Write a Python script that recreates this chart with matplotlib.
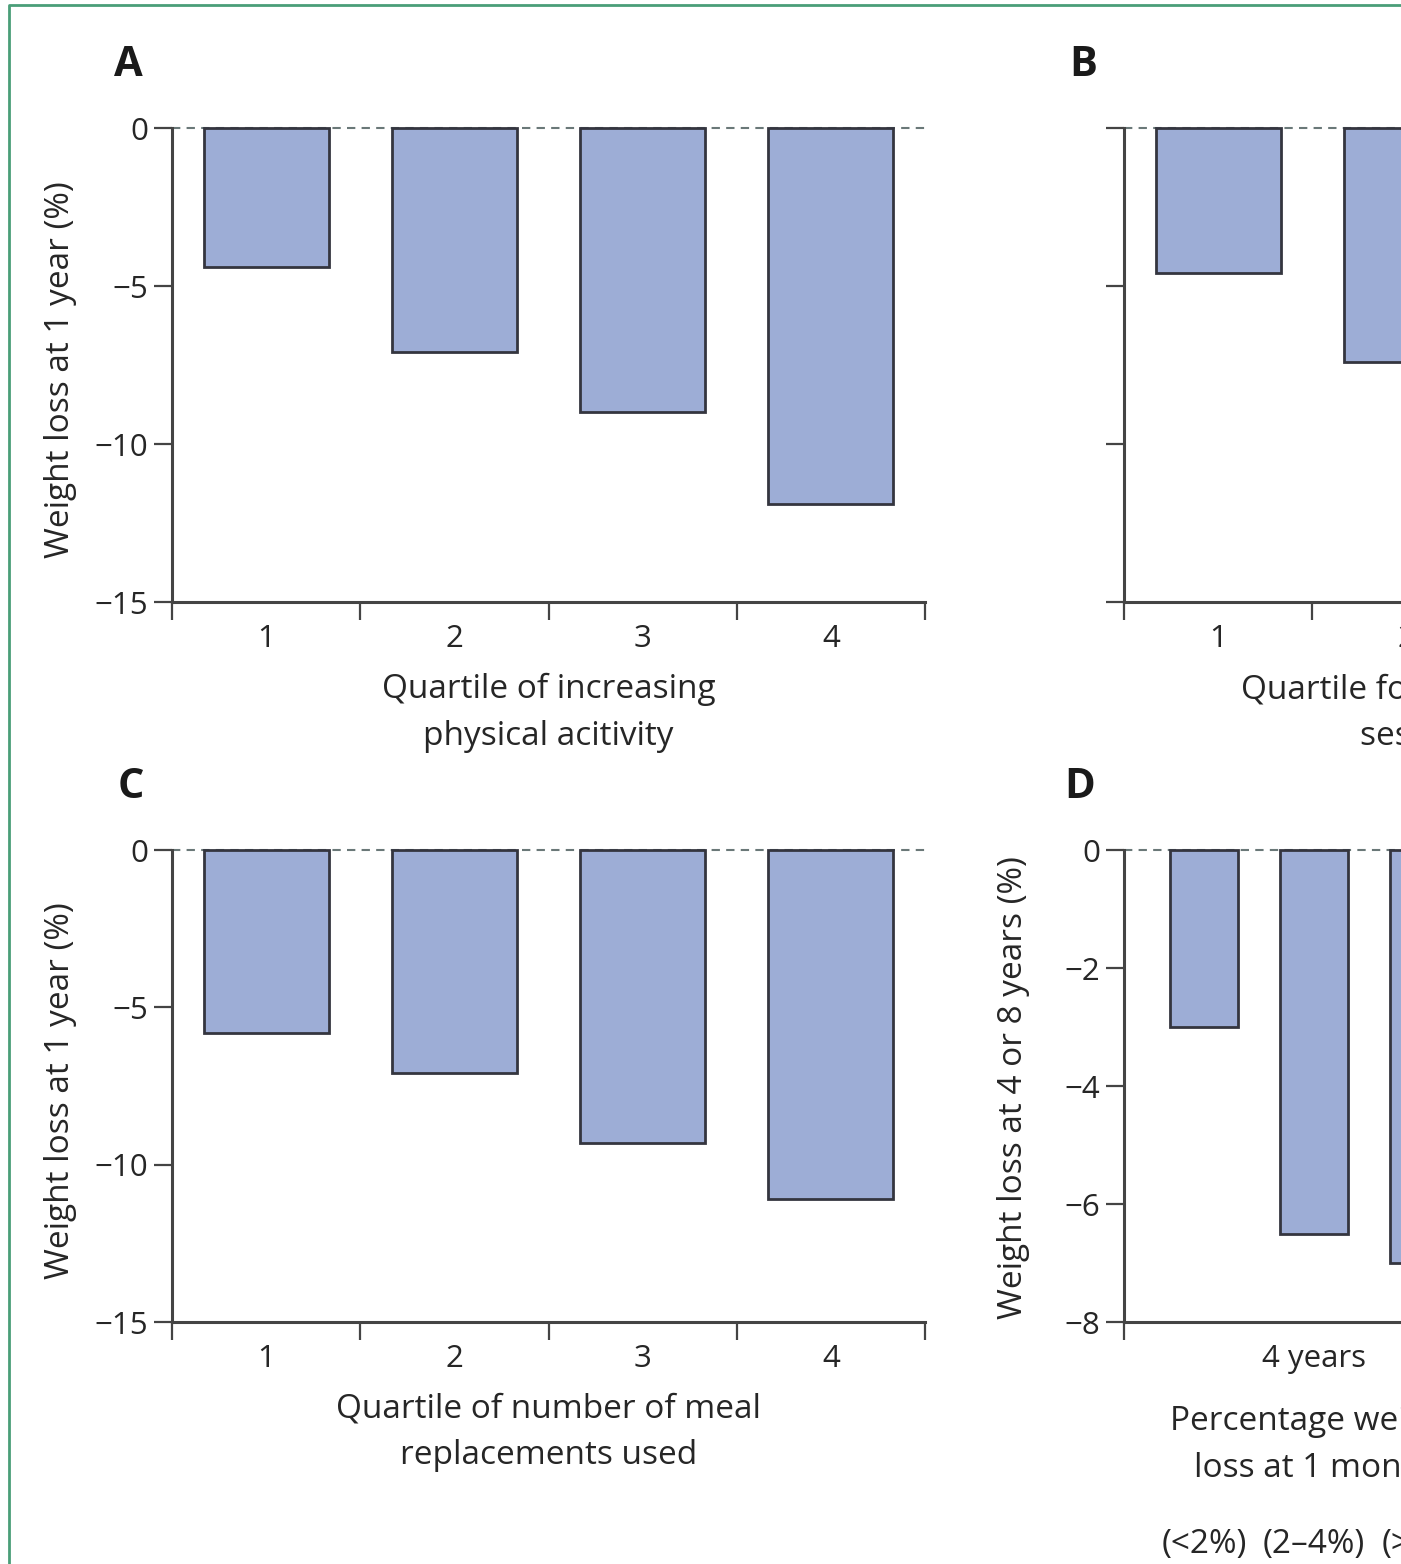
import numpy as np
import matplotlib
matplotlib.use("Agg")
import matplotlib.pyplot as plt
from matplotlib import font_manager
from matplotlib.lines import Line2D

# data (panels B and D are cut at the right edge)
quartiles = ["1", "2", "3", "4"]
a_values = [-4.4, -7.1, -9.0, -11.9]
b_values = [-4.6, -7.4]
c_values = [-5.8, -7.1, -9.3, -11.1]
d_groups = ["4 years"]
d_bins = ["(<2%)", "(2–4%)", "(>4%)"]
d_values = [-3.0, -6.5, -7.0]

names = {f.name for f in font_manager.fontManager.ttflist}
family = "Liberation Sans Narrow" if "Liberation Sans Narrow" in names else "Open Sans"
plt.rcParams["font.family"] = [family, "DejaVu Sans"]

BAR = "#9dadd6"
EDGE = "#34353f"
AXC = "#444444"
TXT = "#262626"
TICK_FS = 22.5
LAB_FS = 24

W, H = 1401, 1564
fig = plt.figure(figsize=(W / 100, H / 100), dpi=100)


def px_axes(left, top, right, bottom):
    return fig.add_axes([left / W, 1 - bottom / H, (right - left) / W, (bottom - top) / H])


def style(ax):
    for s in ("top", "right"):
        ax.spines[s].set_visible(False)
    for s in ("left", "bottom"):
        ax.spines[s].set_color(AXC)
        ax.spines[s].set_linewidth(2.2)
    ax.tick_params(axis="y", length=13, width=1.6, color=AXC, pad=4,
                   labelsize=TICK_FS, labelcolor=TXT)
    ax.tick_params(axis="x", which="major", length=0, pad=16,
                   labelsize=TICK_FS, labelcolor=TXT)
    ax.tick_params(axis="x", which="minor", length=13, width=1.6, color=AXC)


def quartile_panel(ax, values, xlabel, ylabel=None, ylabels_on=True):
    pos = np.arange(1, len(quartiles) + 1)
    ax.axhline(0, ls=(0, (4, 3)), color="#6a7878", lw=1.5, zorder=1, clip_on=False)
    ax.bar(pos[:len(values)], values, width=0.665, color=BAR, edgecolor=EDGE,
           linewidth=2, zorder=3, clip_on=False)
    ax.set_xlim(0.5, len(quartiles) + 0.5)
    ax.set_ylim(-15, 0)
    ax.set_yticks([0, -5, -10, -15])
    if not ylabels_on:
        ax.set_yticklabels([])
    ax.set_xticks(pos)
    ax.set_xticklabels(quartiles)
    ax.set_xticks(np.arange(0.5, len(quartiles) + 1), minor=True)
    style(ax)
    ax.text(0.5, -0.234, xlabel, transform=ax.transAxes, ha="center", va="center",
            fontsize=LAB_FS, color=TXT, linespacing=1.55)
    if ylabel:
        ax.text(-0.1487, 0.49, ylabel, transform=ax.transAxes, rotation=90,
                ha="center", va="center", fontsize=LAB_FS, color=TXT)


axA = px_axes(172, 128, 925, 602)
axB = px_axes(1124, 128, 1877, 602)
axC = px_axes(172, 850, 925, 1322)
axD = px_axes(1124, 850, 1877, 1322)

quartile_panel(axA, a_values, "Quartile of increasing\nphysical acitivity",
               "Weight loss at 1 year (%)")
quartile_panel(axB, b_values, "Quartile for number of treatment\nsessions attended",
               ylabels_on=False)
quartile_panel(axC, c_values, "Quartile of number of meal\nreplacements used",
               "Weight loss at 1 year (%)")

# panel D
dpos = np.arange(1, len(d_values) + 1)
axD.axhline(0, ls=(0, (4, 3)), color="#6a7878", lw=1.5, zorder=1, clip_on=False)
axD.bar(dpos, d_values, width=0.62, color=BAR, edgecolor=EDGE, linewidth=2,
        zorder=3, clip_on=False)
axD.set_xlim(0.273, 7.118)
axD.set_ylim(-8, 0)
axD.set_yticks([0, -2, -4, -6, -8])
axD.set_xticks([dpos.mean()])
axD.set_xticklabels(d_groups)
axD.set_xticks([0.273], minor=True)
style(axD)
axD.text(dpos.mean(), -0.26, "Percentage weight\nloss at 1 month",
         transform=axD.get_xaxis_transform(), ha="center", va="center",
         fontsize=LAB_FS, color=TXT, linespacing=1.55)
for x, lab in zip(dpos, d_bins):
    axD.text(x, -0.472, lab, transform=axD.get_xaxis_transform(), ha="center",
             va="center", fontsize=LAB_FS, color=TXT)
axD.text(-0.147, 0.496, "Weight loss at 4 or 8 years (%)", transform=axD.transAxes,
         rotation=90, ha="center", va="center", fontsize=LAB_FS, color=TXT)

# panel letters
for lab, x, y in [("A", 128, 66), ("B", 1083, 66), ("C", 131, 788), ("D", 1080, 788)]:
    fig.text(x / W, 1 - y / H, lab, ha="center", va="center", fontsize=30,
             fontweight="bold", color="#1a1a1a")

# green frame (left and top edges visible)
gx, gy = 9 / W, 1 - 5 / H
fig.add_artist(Line2D([gx, gx, 1.02], [-0.02, gy, gy], color="#4a9e78", lw=2,
                      transform=fig.transFigure))

fig.savefig("out.png", dpi=100)
